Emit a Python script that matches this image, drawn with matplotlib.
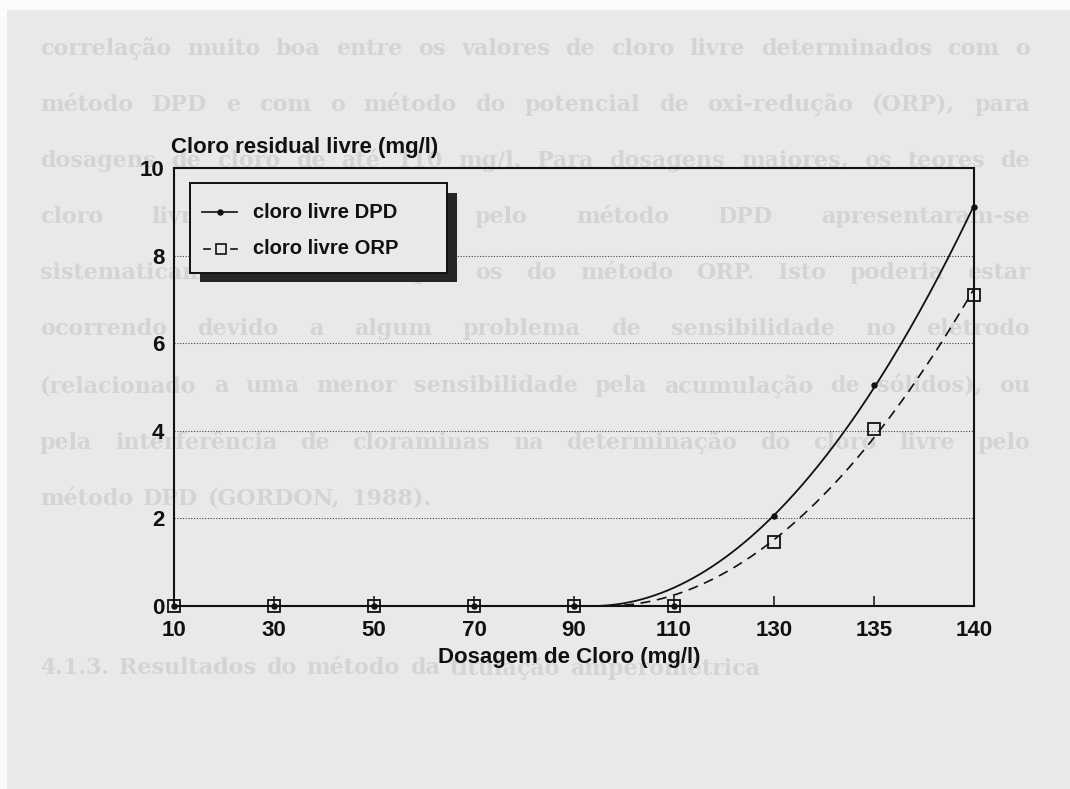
import numpy as np
import matplotlib
matplotlib.use("Agg")
import matplotlib.pyplot as plt
from matplotlib.patches import Rectangle
from matplotlib.lines import Line2D

# ---------------- data ----------------
dosagem = ["10", "30", "50", "70", "90", "110", "130", "135", "140"]
cloro_dpd = [0, 0, 0, 0, 0, 0, 2.05, 5.05, 9.1]
cloro_orp = [0, 0, 0, 0, 0, 0, 1.45, 4.05, 7.1]
y_ticks = [0, 2, 4, 6, 8, 10]
legend_labels = ["cloro livre DPD", "cloro livre ORP"]
x_label = "Dosagem de Cloro (mg/l)"
y_label = "Cloro residual livre (mg/l)"

# faint text of the scanned page behind the chart
bleed_lines = [
    ("correlação muito boa entre os valores de cloro livre determinados com o", True),
    ("método DPD e com o método do potencial de oxi-redução (ORP), para", True),
    ("dosagens de cloro de até 110 mg/l. Para dosagens maiores, os teores de", True),
    ("cloro livre determinados pelo método DPD apresentaram-se", True),
    ("sistematicamente maiores que os do método ORP. Isto poderia estar", True),
    ("ocorrendo devido a algum problema de sensibilidade no eletrodo", True),
    ("(relacionado a uma menor sensibilidade pela acumulação de sólidos), ou", True),
    ("pela interferência de cloraminas na determinação do cloro livre pelo", True),
    ("método DPD (GORDON, 1988).", False),
    ("4.1.3. Resultados do método da titulação amperométrica", False),
]
bleed_y = [49, 105, 161, 217, 273, 329, 386, 443, 499, 668]

# ---------------- figure ----------------
W, H = 1070, 789
BG = "#e9e9e9"
INK = "#111111"
plt.rcParams["font.family"] = ["Liberation Sans", "DejaVu Sans"]

fig = plt.figure(figsize=(W / 100, H / 100), dpi=100)
fig.patch.set_facecolor(BG)


def fx(px):
    return px / W


def fy(py):
    return 1 - py / H


# white scan margins
fig.patches.append(Rectangle((0, 0), fx(7), 1, transform=fig.transFigure,
                             facecolor="#fbfbfb", edgecolor="none", zorder=-5))
fig.patches.append(Rectangle((0, fy(10)), 1, 1 - fy(10), transform=fig.transFigure,
                             facecolor="#fbfbfb", edgecolor="none", zorder=-5))

ax = fig.add_axes([fx(174), fy(606), fx(974) - fx(174), fy(168) - fy(606)])
ax.patch.set_visible(False)

idx = np.arange(len(dosagem))


def fit_curve(vals):
    v = np.asarray(vals, float)
    pos = v > 0
    m, b = np.polyfit(idx[pos], np.sqrt(v[pos]), 1)
    xs = np.linspace(idx[0], idx[-1], 500)
    r = m * xs + b
    return xs, np.where(r > 0, r ** 2, 0.0)


xs, ys_dpd = fit_curve(cloro_dpd)
_, ys_orp = fit_curve(cloro_orp)

ax.plot(xs, ys_dpd, "-", color=INK, lw=1.3, zorder=3)
ax.plot(xs, ys_orp, linestyle=(0, (6, 4)), color=INK, lw=1.2, zorder=3)
ax.plot(idx, cloro_dpd, "o", ms=3.6, color=INK, clip_on=False, zorder=4)
ax.plot(idx, cloro_orp, "s", ms=8.5, mfc="none", mec=INK, mew=1.3,
        clip_on=False, zorder=4)

ax.set_xlim(idx[0], idx[-1])
ax.set_ylim(y_ticks[0], y_ticks[-1])
ax.set_xticks(idx, dosagem)
ax.set_yticks(y_ticks, [str(t) for t in y_ticks])
ax.tick_params(axis="x", direction="in", length=7, width=1.1, pad=10,
               labelsize=16, colors=INK)
ax.tick_params(axis="y", length=0, pad=7, labelsize=16, colors=INK)
for lab in ax.get_xticklabels() + ax.get_yticklabels():
    lab.set_fontweight("bold")
    lab.set_family(["Liberation Sans", "DejaVu Sans"])
ax.yaxis.grid(True, linestyle=(0, (1, 1.5)), color="#444444", lw=0.8)
for sp in ax.spines.values():
    sp.set_color(INK)
    sp.set_linewidth(1.5)

fig.text(fx(171), fy(147), y_label, ha="left", va="center", fontsize=16,
         fontweight="bold", color=INK)
fig.text(fx(569), fy(657), x_label, ha="center", va="center", fontsize=16,
         fontweight="bold", color=INK)

# ---------------- legend (drawn box with drop shadow) ----------------
fig.patches.append(Rectangle((fx(200), fy(282)), fx(457) - fx(200), fy(193) - fy(282),
                             transform=fig.transFigure, facecolor="#262626",
                             edgecolor="none", zorder=5))
fig.patches.append(Rectangle((fx(190), fy(273)), fx(447) - fx(190), fy(183) - fy(273),
                             transform=fig.transFigure, facecolor=BG,
                             edgecolor=INK, lw=1.4, zorder=6))
fig.lines.append(Line2D([fx(202), fx(219.5), fx(237)], [fy(212)] * 3,
                        transform=fig.transFigure, color=INK, lw=1.2,
                        marker="o", ms=3.6, markevery=[1], zorder=7))
fig.lines.append(Line2D([fx(204), fx(210)], [fy(249)] * 2,
                        transform=fig.transFigure, color=INK, lw=1.2, zorder=7))
fig.lines.append(Line2D([fx(231), fx(237)], [fy(249)] * 2,
                        transform=fig.transFigure, color=INK, lw=1.2, zorder=7))
fig.lines.append(Line2D([fx(220.5)], [fy(249)], transform=fig.transFigure,
                        linestyle="none", marker="s", ms=7.5, mfc=BG,
                        mec=INK, mew=1.2, zorder=7))
fig.text(fx(253), fy(212), legend_labels[0], ha="left", va="center",
         fontsize=14.5, fontweight="bold", color=INK, zorder=7)
fig.text(fx(253), fy(249), legend_labels[1], ha="left", va="center",
         fontsize=14.5, fontweight="bold", color=INK, zorder=7)

# ---------------- faint page text ----------------
renderer = fig.canvas.get_renderer()
left_px, right_px = 40, 1030
for (line, justify), ypx in zip(bleed_lines, bleed_y):
    words = line.split(" ")
    texts = [fig.text(0, fy(ypx), w, ha="left", va="center", fontsize=16,
                      family="DejaVu Serif", fontweight="bold", color="#d4d4d4",
                      zorder=-1) for w in words]
    widths = [t.get_window_extent(renderer).width for t in texts]
    if justify and len(words) > 1:
        gap = (right_px - left_px - sum(widths)) / (len(words) - 1)
    else:
        gap = 10
    x = left_px
    for t, w in zip(texts, widths):
        t.set_x(fx(x))
        x += w + gap

fig.savefig("out.png", dpi=100, facecolor=BG)
